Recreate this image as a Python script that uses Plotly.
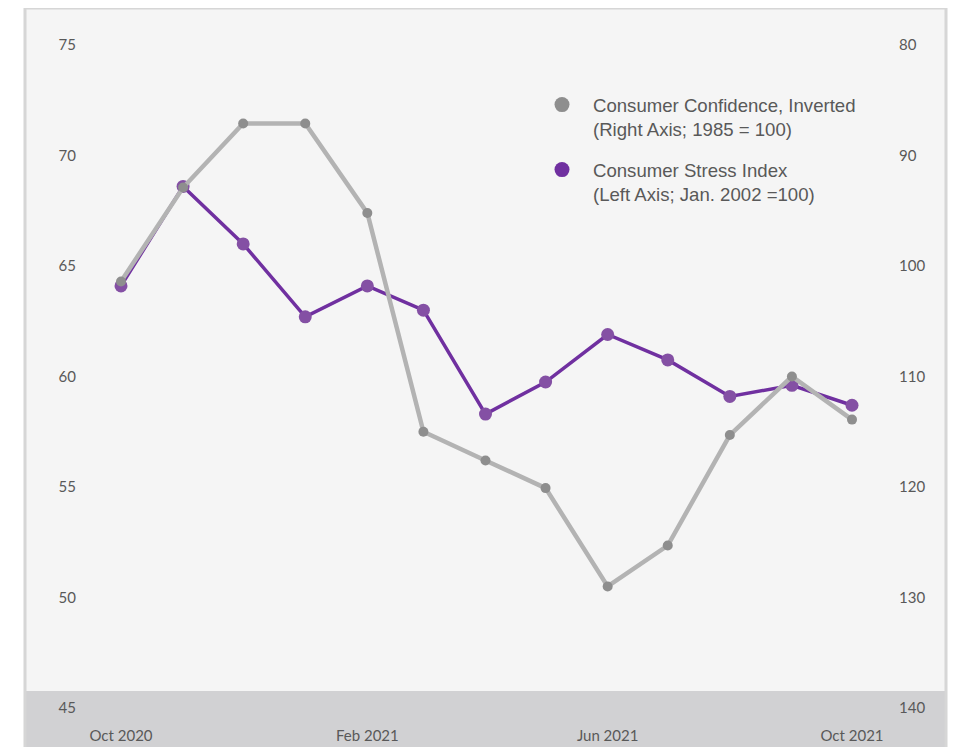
import plotly.graph_objects as go
import datetime as dt

months = ["2020-10-01", "2020-11-01", "2020-12-01", "2021-01-01", "2021-02-01", "2021-03-01",
          "2021-04-01", "2021-05-01", "2021-06-01", "2021-07-01", "2021-08-01", "2021-09-01",
          "2021-10-01"]
stress_index = [64.1, 68.6, 66.0, 62.7, 64.1, 63.0, 58.3, 59.75, 61.9, 60.75, 59.1, 59.6, 58.7]
confidence_inv = [101.4, 92.9, 87.1, 87.1, 95.2, 115.0, 117.6, 120.1, 129.0, 125.3, 115.3, 110.0, 113.9]

x_tickvals = ["2020-10-01", "2021-02-01", "2021-06-01", "2021-10-01"]
x_ticktext = ["Oct 2020", "Feb 2021", "Jun 2021", "Oct 2021"]
left_ticks = [45, 50, 55, 60, 65, 70, 75]
right_ticks = [80, 90, 100, 110, 120, 130, 140]

name_conf = "Consumer Confidence, Inverted<br>(Right Axis; 1985 = 100)"
name_stress = "Consumer Stress Index<br>(Left Axis; Jan. 2002 =100)"

PURPLE_LINE = "#7030a0"
PURPLE_MARK = "#8450a4"
GRAY_LINE = "#b3b3b3"
GRAY_MARK = "#8e8e8e"
TEXT = "#595959"

# the page adds an 8px body margin; figure pixel coordinates below are screen - 8
OFF = 8
W, H = 958 - OFF, 747 - OFF
L, R, T, B = 25 - OFF, 946 - OFF, 0, H
PW, PH = R - L, B - T

fig = go.Figure()

fig.add_trace(go.Scatter(
    x=months, y=stress_index, mode="lines+markers", yaxis="y", showlegend=False,
    line=dict(color=PURPLE_LINE, width=3.5), marker=dict(color=PURPLE_MARK, size=13)))
fig.add_trace(go.Scatter(
    x=months, y=confidence_inv, mode="lines+markers", yaxis="y2", showlegend=False,
    line=dict(color=GRAY_LINE, width=4.5), marker=dict(color=GRAY_MARK, size=10)))

# legend-only entries
fig.add_trace(go.Scatter(
    x=[None], y=[None], mode="markers", name=name_conf, legend="legend",
    marker=dict(color=GRAY_MARK, size=15)))
fig.add_trace(go.Scatter(
    x=[None], y=[None], mode="markers", name=name_stress, legend="legend2",
    marker=dict(color=PURPLE_LINE, size=15)))

# pixel mapping (screen): left 75 at y=45, 45 at y=708 ; right 80 at 45, 140 at 708
y75, y45 = 45 - OFF, 708 - OFF
px_per_unit_left = (y45 - y75) / 30.0
px_per_unit_right = (y45 - y75) / 60.0
ltop = 75 + (y75 - T) / px_per_unit_left
lbot = 45 - (B - y45) / px_per_unit_left
rtop = 80 - (y75 - T) / px_per_unit_right
rbot = 140 + (B - y45) / px_per_unit_right

# x mapping (screen): Oct 2020 at 121, Oct 2021 at 852
xa, xb = 121 - OFF, 852 - OFF
d0 = dt.datetime(2020, 10, 1)
d1 = dt.datetime(2021, 10, 1)
span = (d1 - d0).total_seconds()
pxw = xb - xa
xl = d0 + dt.timedelta(seconds=-(xa - L) / pxw * span)
xr = d1 + dt.timedelta(seconds=(R - xb) / pxw * span)

tickfont = dict(family="Lato, Open Sans, sans-serif", size=15, color=TEXT)
legfont = dict(family="Liberation Sans, Arial, sans-serif", size=18.6, color=TEXT)

fig.update_layout(
    width=W, height=H,
    margin=dict(l=L, r=W - R, t=T, b=H - B, pad=0, autoexpand=False),
    paper_bgcolor="white",
    plot_bgcolor="rgba(0,0,0,0)",
    xaxis=dict(
        type="date", range=[xl, xr], tickvals=x_tickvals, ticktext=x_ticktext,
        showgrid=False, zeroline=False, showline=False, ticks="", automargin=False,
        anchor="free", position=(B - (725 - OFF)) / PH, side="bottom",
        tickfont=tickfont),
    yaxis=dict(
        range=[lbot, ltop], tickvals=left_ticks, showgrid=False, zeroline=False,
        showline=False, ticks="", anchor="free", position=(68 - L) / PW, automargin=False,
        side="left", tickfont=tickfont),
    yaxis2=dict(
        range=[rbot, rtop], tickvals=right_ticks, overlaying="y", showgrid=False,
        zeroline=False, showline=False, ticks="", anchor="free", automargin=False,
        position=(890 - L) / PW, side="right", tickfont=tickfont),
    legend=dict(
        x=(523 - L) / PW, y=(B - 78) / PH, itemwidth=52,
        xanchor="left", yanchor="top", valign="top", bgcolor="rgba(0,0,0,0)",
        font=legfont),
    legend2=dict(
        x=(523 - L) / PW, y=(B - 143) / PH, itemwidth=52,
        xanchor="left", yanchor="top", valign="top", bgcolor="rgba(0,0,0,0)",
        font=legfont),
    shapes=[
        dict(type="rect", xref="paper", yref="paper", x0=0, x1=1, y0=0, y1=1,
             fillcolor="#f5f5f5", line=dict(width=0), layer="below"),
        dict(type="rect", xref="paper", yref="paper", x0=0, x1=1,
             y0=0, y1=(B - (691 - OFF)) / PH,
             fillcolor="#d1d1d3", line=dict(width=0), layer="below"),
        dict(type="rect", xref="paper", yref="paper", x0=0, x1=1, y0=-0.01, y1=1,
             fillcolor="rgba(0,0,0,0)", line=dict(color="#d6d6d6", width=3), layer="below"),
    ],
)

fig.write_html("out.html")
